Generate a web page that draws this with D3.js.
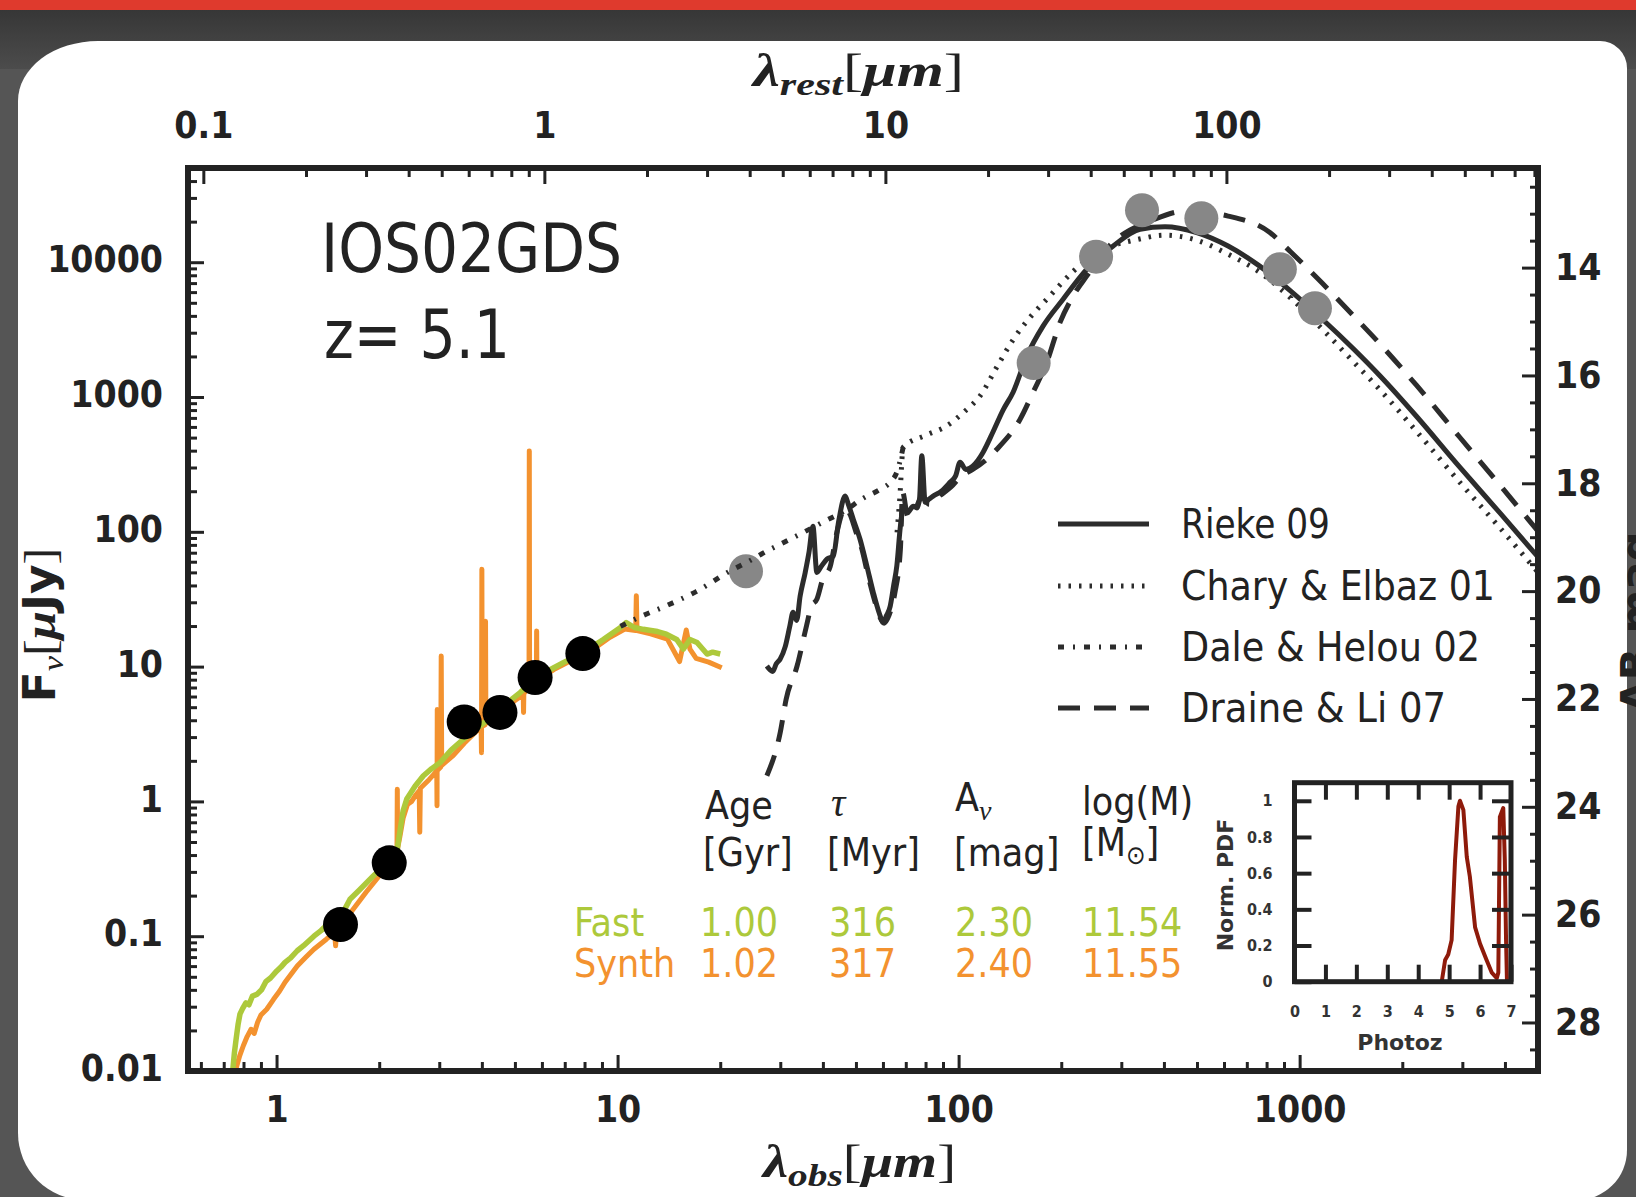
<!DOCTYPE html>
<html>
<head lang="en">
  <meta charset="UTF-8">
  <title>IOS02GDS - SED fit</title>
  <script src="https://cdn.jsdelivr.net/npm/d3@7"></script>
  <style>
    body { margin: 0; background: #4e4e4e; }
    svg { display: block; }
  </style>
</head>
<body>
<script>
  // ---- data (lambda_obs in um, F_nu in uJy) ----
  var redshift = 5.1;
  var optPhot = [[1.54, 0.122], [2.14, 0.35], [3.55, 3.89], [4.52, 4.57], [5.73, 8.3], [7.91, 12.5]];
  var irPhot = [[23.8, 51], [166, 1790], [253, 11000], [345, 24300], [515, 21200], [875, 8870], [1109, 4550]];

  var fastSed = [[0.744, 0.0101], [0.752, 0.0135], [0.761, 0.0172], [0.771, 0.022], [0.781, 0.0264], [0.795, 0.029],
    [0.813, 0.032], [0.83, 0.031], [0.85, 0.036], [0.875, 0.037], [0.904, 0.040], [0.93, 0.046], [0.96, 0.049],
    [1.0, 0.055], [1.03, 0.059], [1.059, 0.064], [1.1, 0.069], [1.15, 0.078], [1.2, 0.085], [1.287, 0.10],
    [1.35, 0.11], [1.42, 0.124], [1.546, 0.141], [1.642, 0.188], [1.75, 0.22], [1.922, 0.28], [2.03, 0.32],
    [2.14, 0.36], [2.251, 0.418], [2.3, 0.6], [2.35, 0.85], [2.409, 1.04], [2.55, 1.3], [2.695, 1.55],
    [2.85, 1.75], [3.017, 1.94], [3.25, 2.4], [3.531, 2.89], [3.95, 3.63], [4.3, 4.3], [4.63, 5.11],
    [5.18, 6.42], [5.79, 8.3], [6.4, 9.6], [6.93, 10.7], [7.93, 12.7], [9.08, 15.9], [10.2, 19.5],
    [10.6, 21.2], [11.2, 19.5], [11.9, 18.9], [12.4, 18.6], [13.1, 18.2], [13.9, 17.4], [14.9, 15.9],
    [15.6, 13.5], [16.3, 15.9], [17.1, 15.1], [18.3, 12.4], [19, 12.8], [20.0, 12.4]];

  var synthSed = [[0.758, 0.0101], [0.78, 0.013], [0.799, 0.0154], [0.82, 0.018], [0.842, 0.0204], [0.86, 0.019],
    [0.88, 0.023], [0.9, 0.026], [0.936, 0.0287], [0.98, 0.034], [1.02, 0.039], [1.059, 0.0456], [1.15, 0.06],
    [1.22, 0.07], [1.287, 0.080], [1.40, 0.095], [1.48, 0.107], [1.49, 0.085], [1.50, 0.11], [1.55, 0.122],
    [1.65, 0.15], [1.83, 0.212], [2.0, 0.28], [2.14, 0.33], [2.24, 0.40], [2.255, 0.42], [2.26, 1.23],
    [2.265, 0.45], [2.3, 0.55], [2.35, 0.75], [2.42, 0.95], [2.49, 1.0], [2.55, 1.1], [2.62, 1.2], [2.63, 0.59],
    [2.64, 1.25], [2.8, 1.45], [2.9, 1.6], [2.95, 1.7], [2.955, 0.93], [2.96, 4.8], [2.965, 1.7], [3.03, 1.8],
    [3.04, 12.0], [3.05, 1.85], [3.3, 2.2], [3.55, 2.7], [3.75, 3.1], [3.9, 3.4], [3.98, 3.5], [3.99, 2.3],
    [4.0, 52.8], [4.01, 3.6], [4.09, 3.7], [4.1, 21.7], [4.11, 3.8], [4.5, 4.5], [5.0, 5.6], [5.29, 6.2],
    [5.3, 4.57], [5.31, 6.3], [5.5, 7.0], [5.51, 398], [5.52, 7.1], [5.78, 7.8], [5.79, 18.4], [5.8, 7.9],
    [6.5, 9.5], [7.5, 11.5], [8.5, 13.5], [9.5, 16.5], [10.5, 19], [11.3, 18.5], [11.35, 33.5], [11.4, 18.5],
    [12.5, 17.5], [14, 16], [15.2, 10.9], [15.9, 18.7], [16.3, 13.5], [17, 11.5], [18.5, 10.8], [20.2, 9.8]];

  var rieke09 = [[27.4, 10.1], [28.5, 9.2], [29.2, 10.5], [29.96, 11.35], [31, 14], [32, 20], [32.7, 25.3],
    [33.5, 22], [34.3, 33.3], [35.5, 50], [36.4, 70], [37.4, 110], [38.4, 50], [39.5, 55], [41.1, 62.7],
    [42.9, 66], [44.5, 120], [46.5, 184], [47.5, 160], [49.1, 124], [51.4, 88], [53.8, 56], [56.2, 35.6],
    [58.5, 25], [60.1, 21.3], [61.5, 24], [63, 28], [64.5, 40], [65.9, 56], [67.5, 110], [68.8, 147],
    [71, 140], [73.6, 155], [75.5, 150], [76.8, 175], [78, 366], [79.8, 166], [82, 175], [84.2, 184],
    [89, 200], [94.4, 233], [98, 260], [101, 328], [105, 290], [110, 307], [114, 340], [118, 390],
    [126, 548], [135, 800], [144.5, 1086], [158.6, 2018], [177, 3370], [202.5, 5315], [237.7, 8870],
    [284, 13200], [340.6, 17560], [403, 18300], [499, 16600], [617, 13200], [762, 9390], [942, 6110],
    [1164, 3790], [1440, 2270], [1722, 1432], [2197, 723], [2944, 303], [3866, 138], [5000, 65]];

  var chary01 = [[66, 99], [67.2, 175], [68.8, 425], [80, 520], [92.3, 611], [104, 780], [115.6, 1019],
    [130, 1700], [144.8, 2683], [162, 3900], [181.5, 5320], [217.5, 8620], [250, 11500], [284, 13300],
    [327, 14560], [403, 15850], [499, 14560], [617, 11470], [762, 8460], [942, 5420], [1164, 3195],
    [1440, 1818], [1722, 1127], [2197, 559], [2944, 234], [3866, 107], [5000, 50]];

  var dale02 = [[10.2, 19.9], [11.6, 23.3], [14, 28.5], [17, 36], [21.4, 51.3], [24, 59.6], [27.4, 72],
    [31, 84.3], [35, 98.8], [40, 118], [46.9, 146], [52, 175], [58.9, 207], [63, 233], [66, 280], [68.8, 425]];

  var draine07 = [[27.4, 1.55], [30, 3.26], [31.2, 5.7], [33.6, 10.1], [35.8, 20], [37, 28], [38.4, 31.6],
    [40, 45], [42, 55], [44, 100], [46.5, 150], [48, 135], [50, 100], [52, 75], [54, 50], [56.5, 32],
    [58.5, 24], [60.5, 21], [62.5, 24], [65, 35], [67.5, 74], [68.5, 197], [71, 130], [74, 140], [78, 180],
    [82, 160], [88, 185], [95, 215], [102, 260], [110, 290], [120, 340], [129.5, 410], [151.5, 685],
    [165.4, 1086], [181.4, 1812], [198.5, 3590], [216.7, 5620], [237.7, 7920], [274, 12850], [376, 20840],
    [464, 24000], [617, 22000], [818, 16600], [942, 11900], [1164, 7010], [1440, 3990], [1722, 2470],
    [2197, 1228], [2944, 505], [3866, 222], [5000, 101]];

  // photo-z probability (z, normalised pdf)
  var photozPdf = [[4.76, 0], [4.87, 0.12], [4.97, 0.15], [5.08, 0.23], [5.19, 0.67], [5.30, 0.97], [5.35, 1.0],
    [5.46, 0.95], [5.57, 0.69], [5.67, 0.58], [5.84, 0.30], [6.00, 0.21], [6.21, 0.12], [6.38, 0.05],
    [6.54, 0.02], [6.59, 0.05], [6.64, 0.91], [6.75, 0.96], [6.80, 0.67], [6.84, 0.23], [6.87, 0]];

  // ticks
  var obsTicks = [1, 10, 100, 1000];
  var restTicks = [0.1, 1, 10, 100];
  var fluxTicks = [0.01, 0.1, 1, 10, 100, 1000, 10000];
  var magTicks = [14, 16, 18, 20, 22, 24, 26, 28];
  var pdfTicks = [0, 0.2, 0.4, 0.6, 0.8, 1];
  var zTicks = [0, 1, 2, 3, 4, 5, 6, 7];

  // legend + fit table
  var legendNames = ['Rieke 09', 'Chary & Elbaz 01', 'Dale & Helou 02', 'Draine & Li 07'];
  var fastRow = ['Fast', '1.00', '316', '2.30', '11.54'];
  var synthRow = ['Synth', '1.02', '317', '2.40', '11.55'];

  // ---- setup ----
  var W = 1636, H = 1197;
  var ink = '#222';
  var lineInk = '#2c2c2c';
  var green = '#adc93b';
  var orange = '#f3922f';
  var tickFont = '"DejaVu Sans Condensed", "DejaVu Sans", sans-serif';
  var serif = '"Liberation Serif", "DejaVu Serif", serif';

  var svg = d3.select('body').append('svg')
      .attr('width', W)
      .attr('height', H);

  // slide background
  var defs = svg.append('defs');
  var grad = defs.append('linearGradient').attr('id', 'band').attr('x1', 0).attr('y1', 0).attr('x2', 0).attr('y2', 1);
  grad.append('stop').attr('offset', '0%').attr('stop-color', '#363636');
  grad.append('stop').attr('offset', '100%').attr('stop-color', '#4c4c4c');
  svg.append('rect').attr('width', W).attr('height', H).attr('fill', '#555');
  svg.append('rect').attr('x', 0).attr('y', 9).attr('width', W).attr('height', 60).attr('fill', 'url(#band)');
  svg.append('rect').attr('x', 0).attr('y', 0).attr('width', W).attr('height', 10).attr('fill', '#df3a2d');
  svg.append('path')
      .attr('d', 'M98,41 H1600 A27,27 0 0 1 1627,68 V1150 A50,50 0 0 1 1577,1200 H85 A67,67 0 0 1 18,1133 V101 A80,60 0 0 1 98,41 Z')
      .attr('fill', '#fff');

  // main scales
  var pL = 188, pR = 1538, pT = 168, pB = 1071;
  var x = d3.scaleLog().domain([0.55, 5000]).range([pL, pR]);
  var xRest = d3.scaleLog().domain([0.55 / (1 + redshift), 5000 / (1 + redshift)]).range([pL, pR]);
  var y = d3.scaleLog().domain([0.01, 5e4]).range([pB, pT]);
  var mag = d3.scaleLinear()
      .domain([23.9 - 2.5 * Math.log10(5e4), 23.9 - 2.5 * Math.log10(0.01)])
      .range([pT, pB]);

  function minorLog(lo, hi) {
    var out = [];
    for (var d = lo; d < hi; d *= 10)
      for (var k = 2; k <= 9; k++) out.push(d * k);
    return out;
  }
  var obsMinor = minorLog(0.1, 1e4).filter(function (v) { return v > 0.55 && v < 5000; });
  var restMinor = minorLog(0.01, 1e3).filter(function (v) { return v > 0.091 && v < 819; });
  var fluxMinor = minorLog(0.01, 1e5).filter(function (v) { return v < 5e4; });
  var magMinor = d3.range(12.5, 29, 0.5).filter(function (v) { return v % 2 !== 0; });

  function styleAxis(g, size) {
    g.select('.domain').remove();
    g.attr('font-family', null).attr('font-size', null);
    g.selectAll('.tick line').attr('stroke', ink).attr('stroke-width', 3);
    g.selectAll('.tick text')
        .attr('fill', ink)
        .attr('font-family', tickFont)
        .attr('font-weight', 'bold')
        .attr('font-size', size || 37);
  }

  // minor ticks
  svg.append('g').attr('transform', 'translate(0,' + pB + ')')
      .call(d3.axisBottom(x).tickValues(obsMinor).tickSize(-9).tickFormat(''))
      .call(styleAxis);
  svg.append('g').attr('transform', 'translate(0,' + pT + ')')
      .call(d3.axisTop(xRest).tickValues(restMinor).tickSize(-9).tickFormat(''))
      .call(styleAxis);
  svg.append('g').attr('transform', 'translate(' + pL + ',0)')
      .call(d3.axisLeft(y).tickValues(fluxMinor).tickSize(-9).tickFormat(''))
      .call(styleAxis);
  svg.append('g').attr('transform', 'translate(' + pR + ',0)')
      .call(d3.axisRight(mag).tickValues(magMinor).tickSize(-8).tickFormat(''))
      .call(styleAxis);

  // major ticks + labels
  svg.append('g').attr('transform', 'translate(0,' + pB + ')')
      .call(d3.axisBottom(x).tickValues(obsTicks).tickSize(-16).tickFormat(String))
      .call(styleAxis)
      .selectAll('.tick text').attr('y', 51).attr('dy', null);
  svg.append('g').attr('transform', 'translate(0,' + pT + ')')
      .call(d3.axisTop(xRest).tickValues(restTicks).tickSize(-16).tickPadding(30).tickFormat(String))
      .call(styleAxis);
  svg.append('g').attr('transform', 'translate(' + pL + ',0)')
      .call(d3.axisLeft(y).tickValues(fluxTicks).tickSize(-16).tickPadding(25).tickFormat(String))
      .call(styleAxis)
      .selectAll('.tick text').attr('dy', '0.26em');
  svg.append('g').attr('transform', 'translate(' + pR + ',0)')
      .call(d3.axisRight(mag).tickValues(magTicks).tickSize(-16).tickPadding(17).tickFormat(String))
      .call(styleAxis);

  // curves
  defs.append('clipPath').attr('id', 'plotclip')
    .append('rect').attr('x', pL).attr('y', pT).attr('width', pR - pL).attr('height', pB - pT);
  var plot = svg.append('g').attr('clip-path', 'url(#plotclip)');
  var line = d3.line()
      .x(function (d) { return x(d[0]); })
      .y(function (d) { return y(d[1]); });
  var smoothLine = d3.line()
      .curve(d3.curveMonotoneX)
      .x(function (d) { return x(d[0]); })
      .y(function (d) { return y(d[1]); });

  function curve(data, color, width, dash, gen) {
    return plot.append('path')
        .datum(data)
        .attr('d', gen || line)
        .attr('fill', 'none')
        .attr('stroke', color)
        .attr('stroke-width', width)
        .attr('stroke-linejoin', 'round')
        .attr('stroke-dasharray', dash || null);
  }

  curve(synthSed, orange, 5);
  curve(fastSed, green, 5.5);
  curve(rieke09, lineInk, 5, null, smoothLine);
  curve(draine07, lineInk, 5, '22,14', smoothLine);
  curve(chary01, lineInk, 5, '2.5,8', smoothLine);

  plot.selectAll('.opt').data(optPhot).enter().append('circle')
      .attr('cx', function (d) { return x(d[0]); })
      .attr('cy', function (d) { return y(d[1]); })
      .attr('r', 17.5)
      .attr('fill', '#000');
  plot.selectAll('.fir').data(irPhot).enter().append('circle')
      .attr('cx', function (d) { return x(d[0]); })
      .attr('cy', function (d) { return y(d[1]); })
      .attr('r', 17)
      .attr('fill', '#878787');

  curve(dale02, lineInk, 5, '6,9,2,9', smoothLine);

  // frame
  svg.append('rect')
      .attr('x', pL).attr('y', pT)
      .attr('width', pR - pL).attr('height', pB - pT)
      .attr('fill', 'none')
      .attr('stroke', ink)
      .attr('stroke-width', 6);

  // source name
  svg.append('text').attr('x', 321).attr('y', 272)
      .attr('font-family', tickFont).attr('font-size', 68).attr('fill', ink)
      .attr('textLength', 301).attr('lengthAdjust', 'spacingAndGlyphs')
      .text('IOS02GDS');
  svg.append('text').attr('x', 324).attr('y', 358)
      .attr('font-family', tickFont).attr('font-size', 68).attr('fill', ink)
      .attr('textLength', 186).attr('lengthAdjust', 'spacingAndGlyphs')
      .text('z= 5.1');

  // legend
  var legendDash = [null, '2.5,8', '6,9,2,9', '22,14'];
  var legendY = [524, 586, 647, 708];
  var legendW = [149, 314, 299, 265];
  legendNames.forEach(function (name, i) {
    svg.append('line')
        .attr('x1', 1058).attr('x2', 1149)
        .attr('y1', legendY[i]).attr('y2', legendY[i])
        .attr('stroke', lineInk).attr('stroke-width', 5)
        .attr('stroke-dasharray', legendDash[i]);
    svg.append('text')
        .attr('x', 1181).attr('y', legendY[i] + 14)
        .attr('font-family', tickFont).attr('font-size', 41).attr('fill', ink)
        .attr('textLength', legendW[i]).attr('lengthAdjust', 'spacingAndGlyphs')
        .text(name);
  });

  // fit table
  var colX = [574, 700, 829, 955, 1082];
  var tbl = svg.append('g').attr('font-family', tickFont).attr('font-size', 39);
  tbl.append('text').attr('x', 705).attr('y', 819).attr('fill', ink).text('Age');
  tbl.append('text').attr('x', 703).attr('y', 866).attr('fill', ink).text('[Gyr]');
  tbl.append('text').attr('x', 831).attr('y', 816).attr('fill', ink)
      .attr('font-family', serif).attr('font-style', 'italic').attr('font-size', 40).text('τ');
  tbl.append('text').attr('x', 827).attr('y', 866).attr('fill', ink).text('[Myr]');
  var av = tbl.append('text').attr('x', 955).attr('y', 811).attr('fill', ink);
  av.append('tspan').text('A');
  av.append('tspan').attr('dy', 9).attr('font-size', 28).attr('font-family', serif).attr('font-style', 'italic').text('v');
  tbl.append('text').attr('x', 954).attr('y', 866).attr('fill', ink).text('[mag]');
  tbl.append('text').attr('x', 1082).attr('y', 815).attr('fill', ink).text('log(M)');
  var msun = tbl.append('text').attr('x', 1082).attr('y', 856).attr('fill', ink);
  msun.append('tspan').text('[M');
  msun.append('tspan').attr('dy', 8).attr('font-size', 26).text('⊙');
  msun.append('tspan').attr('dy', -8).text(']');
  [fastRow, synthRow].forEach(function (row, r) {
    row.forEach(function (v, i) {
      tbl.append('text')
          .attr('x', colX[i]).attr('y', r === 0 ? 936 : 977)
          .attr('fill', r === 0 ? green : orange)
          .text(v);
    });
  });

  // axis titles
  var topLabel = svg.append('text').attr('x', 753).attr('y', 86)
      .attr('font-family', serif).attr('font-size', 46).attr('fill', ink)
      .attr('textLength', 211).attr('lengthAdjust', 'spacingAndGlyphs');
  topLabel.append('tspan').attr('font-weight', 'bold').attr('font-style', 'italic').text('λ');
  topLabel.append('tspan').attr('font-weight', 'bold').attr('font-style', 'italic').attr('font-size', 32).attr('dy', 9).text('rest');
  topLabel.append('tspan').attr('dy', -9).text('[');
  topLabel.append('tspan').attr('font-weight', 'bold').attr('font-style', 'italic').text('μm');
  topLabel.append('tspan').text(']');

  var botLabel = svg.append('text').attr('x', 763).attr('y', 1177)
      .attr('font-family', serif).attr('font-size', 46).attr('fill', ink)
      .attr('textLength', 193).attr('lengthAdjust', 'spacingAndGlyphs');
  botLabel.append('tspan').attr('font-weight', 'bold').attr('font-style', 'italic').text('λ');
  botLabel.append('tspan').attr('font-weight', 'bold').attr('font-style', 'italic').attr('font-size', 32).attr('dy', 9).text('obs');
  botLabel.append('tspan').attr('dy', -9).text('[');
  botLabel.append('tspan').attr('font-weight', 'bold').attr('font-style', 'italic').text('μm');
  botLabel.append('tspan').text(']');

  var yLabel = svg.append('text')
      .attr('transform', 'translate(55,625) rotate(-90)')
      .attr('text-anchor', 'middle')
      .attr('font-family', tickFont).attr('font-size', 44).attr('font-weight', 'bold').attr('fill', ink)
      .attr('textLength', 155).attr('lengthAdjust', 'spacingAndGlyphs');
  yLabel.append('tspan').text('F');
  yLabel.append('tspan').attr('dy', 8).attr('font-size', 30).attr('font-weight', 'normal')
      .attr('font-family', serif).attr('font-style', 'italic').text('ν');
  yLabel.append('tspan').attr('dy', -8).attr('font-weight', 'normal').attr('font-family', serif).text('[');
  yLabel.append('tspan').attr('font-family', serif).attr('font-style', 'italic').text('μ');
  yLabel.append('tspan').text('Jy');
  yLabel.append('tspan').attr('font-weight', 'normal').attr('font-family', serif).text(']');

  svg.append('text')
      .attr('transform', 'translate(1651,622) rotate(-90)')
      .attr('text-anchor', 'middle')
      .attr('font-family', '"DejaVu Sans", sans-serif').attr('font-size', 42).attr('font-weight', 'bold')
      .attr('fill', ink)
      .text('AB mag');

  // photo-z inset
  var xi = d3.scaleLinear().domain([0, 7]).range([1294.5, 1511]);
  var yi = d3.scaleLinear().domain([0, 1.1]).range([981.7, 782.7]);
  var inset = svg.append('g');
  inset.append('rect').attr('x', 1294.5).attr('y', 782.7).attr('width', 216.5).attr('height', 199).attr('fill', '#fff');
  defs.append('clipPath').attr('id', 'insetclip')
    .append('rect').attr('x', 1294.5).attr('y', 782.7).attr('width', 216.5).attr('height', 199);
  inset.append('path')
      .datum(photozPdf)
      .attr('clip-path', 'url(#insetclip)')
      .attr('d', d3.line().x(function (d) { return xi(d[0]); }).y(function (d) { return yi(d[1]); }))
      .attr('fill', 'none')
      .attr('stroke', '#8e1b0b')
      .attr('stroke-width', 4)
      .attr('stroke-linejoin', 'round');

  function styleInset(g) {
    g.select('.domain').remove();
    g.attr('font-family', null).attr('font-size', null);
    g.selectAll('.tick line').attr('stroke', ink).attr('stroke-width', 4);
    g.selectAll('.tick text').attr('fill', '#333').attr('font-family', tickFont)
        .attr('font-weight', 'bold').attr('font-size', 16);
  }
  inset.append('g').attr('transform', 'translate(0,981.7)')
      .call(d3.axisBottom(xi).tickValues(zTicks).tickSize(-17).tickPadding(24).tickFormat(String))
      .call(styleInset);
  inset.append('g').attr('transform', 'translate(0,782.7)')
      .call(d3.axisTop(xi).tickValues(zTicks.slice(1, 7)).tickSize(-17).tickFormat(''))
      .call(styleInset);
  inset.append('g').attr('transform', 'translate(1294.5,0)')
      .call(d3.axisLeft(yi).tickValues(pdfTicks).tickSize(-17).tickPadding(22).tickFormat(String))
      .call(styleInset);
  inset.append('g').attr('transform', 'translate(1511,0)')
      .call(d3.axisRight(yi).tickValues(pdfTicks.slice(1)).tickSize(-19).tickFormat(''))
      .call(styleInset);
  inset.append('rect').attr('x', 1294.5).attr('y', 782.7).attr('width', 216.5).attr('height', 199)
      .attr('fill', 'none').attr('stroke', ink).attr('stroke-width', 5);
  inset.append('text').attr('x', 1400).attr('y', 1050).attr('text-anchor', 'middle')
      .attr('font-family', '"DejaVu Sans", sans-serif').attr('font-weight', 'bold').attr('font-size', 22)
      .attr('fill', '#333').text('Photoz');
  inset.append('text').attr('transform', 'translate(1233,885) rotate(-90)').attr('text-anchor', 'middle')
      .attr('font-family', '"DejaVu Sans", sans-serif').attr('font-weight', 'bold').attr('font-size', 22)
      .attr('fill', '#333').text('Norm. PDF');
</script>
</body>
</html>
